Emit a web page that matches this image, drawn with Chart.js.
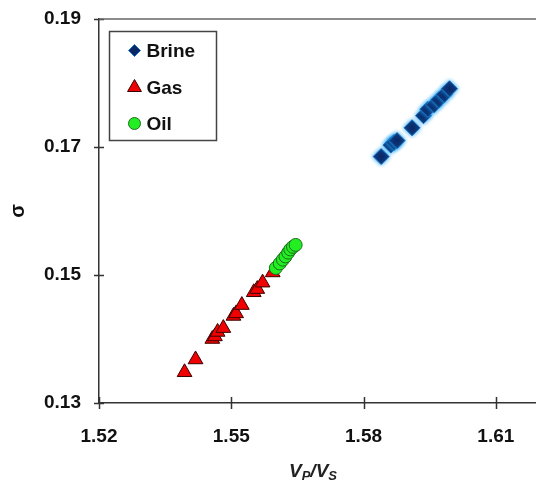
<!DOCTYPE html>
<html>
<head>
<meta charset="utf-8">
<title>Vp/Vs vs Poisson ratio</title>
<script src="https://cdn.jsdelivr.net/npm/chart.js@4.4.1/dist/chart.umd.min.js"></script>
<style>
  html, body { margin: 0; padding: 0; background: #fff; overflow: hidden; }
  #wrap { position: relative; width: 600px; height: 484px; }
</style>
</head>
<body>
<div id="wrap"><canvas id="ratioChart" width="600" height="484"></canvas></div>
<script>
// Vp/Vs against Poisson's ratio (sigma) for each pore fluid
const brineVp = [1.5840, 1.5862, 1.5869, 1.5876, 1.5910, 1.5936, 1.5946, 1.5960, 1.5971, 1.5983, 1.5995];
const brineSigma = [0.1685, 0.1703, 0.1707, 0.1710, 0.1730, 0.1749, 0.1759, 0.1766, 0.1774, 0.1782, 0.1791];

const gasVp = [1.5394, 1.5419, 1.5457, 1.5463, 1.5469, 1.5482, 1.5505, 1.5511, 1.5524, 1.5551, 1.5559, 1.5571, 1.5594];
const gasSigma = [0.1348, 0.1368, 0.1400, 0.1404, 0.1411, 0.1417, 0.1436, 0.1440, 0.1453, 0.1473, 0.1478, 0.1488, 0.1504];

const oilVp = [1.5601, 1.5610, 1.5617, 1.5623, 1.5629, 1.5634, 1.5640, 1.5646];
const oilSigma = [0.1511, 0.1518, 0.1524, 0.1529, 0.1535, 0.1540, 0.1544, 0.1547];

const xTicks = [1.52, 1.55, 1.58, 1.61];
const yTicks = [0.13, 0.15, 0.17, 0.19];
const fluidNames = ["Brine", "Gas", "Oil"];

const FONT = '"Liberation Sans", Arial, sans-serif';

function pairs(xs, ys) {
  return xs.map((x, i) => ({ x: x, y: ys[i] }));
}

// crossing tick marks, top frame line, x title with subscripts, legend box
const decorations = {
  id: "decorations",
  beforeDatasetDraw(chart, args) {
    const ctx = chart.ctx;
    if (args.index === 0) {
      ctx.shadowColor = "rgba(30,160,240,1)";
      ctx.shadowBlur = 4;
    }
  },
  afterDatasetDraw(chart) {
    chart.ctx.shadowBlur = 0;
    chart.ctx.shadowColor = "transparent";
  },
  afterDraw(chart) {
    const ctx = chart.ctx;
    const area = chart.chartArea;
    const xs = chart.scales.x;
    const ys = chart.scales.y;
    ctx.save();
    ctx.strokeStyle = "#333";
    ctx.lineWidth = 1.5;

    ctx.beginPath();
    xTicks.forEach(v => {
      const px = Math.round(xs.getPixelForValue(v)) + 0.5;
      ctx.moveTo(px, area.bottom - 6);
      ctx.lineTo(px, area.bottom + 6);
    });
    yTicks.forEach(v => {
      const py = Math.round(ys.getPixelForValue(v)) + 0.5;
      ctx.moveTo(area.left - 5, py);
      ctx.lineTo(area.left + 5, py);
    });
    ctx.stroke();

    ctx.strokeStyle = "#666";
    ctx.beginPath();
    ctx.moveTo(area.left, area.top);
    ctx.lineTo(area.right, area.top);
    ctx.stroke();

    // V_P / V_S
    ctx.fillStyle = "#222";
    ctx.textBaseline = "alphabetic";
    const parts = [
      { t: "V", f: "italic bold 19px " + FONT, dy: 0 },
      { t: "P", f: "italic bold 13px " + FONT, dy: 3 },
      { t: "/V", f: "italic bold 19px " + FONT, dy: 0 },
      { t: "S", f: "italic bold 13px " + FONT, dy: 3 }
    ];
    let total = 0;
    parts.forEach(p => { ctx.font = p.f; p.w = ctx.measureText(p.t).width; total += p.w; });
    let tx = 313 - total / 2;
    parts.forEach(p => {
      ctx.font = p.f;
      ctx.fillText(p.t, tx, 477 + p.dy);
      tx += p.w;
    });

    // legend
    const lx = area.left + 10.5, ly = area.top + 12.5;
    ctx.strokeStyle = "#444";
    ctx.lineWidth = 1.5;
    ctx.strokeRect(lx, ly, 107, 109);
    const rows = [19, 56, 92];
    chart.data.datasets.forEach((ds, i) => {
      const cy = ly + rows[i];
      ctx.fillStyle = ds.backgroundColor;
      ctx.strokeStyle = ds.borderColor;
      ctx.lineWidth = ds.borderWidth;
      Chart.helpers.drawPoint(ctx, {
        pointStyle: ds.pointStyle,
        radius: ds.legendRadius,
        rotation: 0,
        borderWidth: ds.borderWidth
      }, lx + 25, cy);
      ctx.fillStyle = "#111";
      ctx.font = "bold 19px " + FONT;
      ctx.textBaseline = "middle";
      ctx.textAlign = "left";
      ctx.fillText(ds.label, lx + 37, cy + 1);
    });
    ctx.restore();
  }
};

new Chart(document.getElementById("ratioChart"), {
  type: "scatter",
  data: {
    datasets: [
      {
        label: fluidNames[0],
        data: pairs(brineVp, brineSigma),
        pointStyle: "rectRot",
        pointRadius: 8,
        legendRadius: 6,
        backgroundColor: "#0a2766",
        borderColor: "#1a72c4",
        borderWidth: 1,
        order: 2
      },
      {
        label: fluidNames[1],
        data: pairs(gasVp, gasSigma),
        pointStyle: "triangle",
        pointRadius: 8.5,
        legendRadius: 8,
        backgroundColor: "#f00000",
        borderColor: "#3a0000",
        borderWidth: 1,
        order: 1
      },
      {
        label: fluidNames[2],
        data: pairs(oilVp, oilSigma),
        pointStyle: "circle",
        pointRadius: 6.5,
        legendRadius: 6,
        backgroundColor: "#22ee22",
        borderColor: "#1d6b1d",
        borderWidth: 1,
        order: 0
      }
    ]
  },
  options: {
    responsive: false,
    animation: false,
    layout: { padding: { top: 19, left: 0, right: 16, bottom: 0 } },
    plugins: {
      legend: { display: false },
      tooltip: { enabled: false }
    },
    scales: {
      x: {
        type: "linear",
        min: 1.52,
        max: 1.63,
        afterFit: s => { s.height = 81; s.paddingLeft = 0; s.paddingRight = 0; },
        afterBuildTicks: s => { s.ticks = xTicks.map(v => ({ value: v })); },
        ticks: {
          padding: 22,
          color: "#111",
          font: { family: FONT, size: 19, weight: "bold" },
          callback: v => v.toFixed(2)
        },
        grid: { drawOnChartArea: false, drawTicks: false },
        border: { color: "#333", width: 1.5 }
      },
      y: {
        min: 0.13,
        max: 0.19,
        afterFit: s => { s.width = 99; s.paddingTop = 0; s.paddingBottom = 0; },
        afterBuildTicks: s => { s.ticks = yTicks.map(v => ({ value: v })); },
        title: {
          display: true,
          text: "σ",
          color: "#111",
          padding: { top: 6, bottom: 0 },
          font: { family: FONT, size: 20, weight: "bold" }
        },
        ticks: {
          padding: 18,
          color: "#111",
          font: { family: FONT, size: 19, weight: "bold" },
          callback: v => v.toFixed(2)
        },
        grid: { drawOnChartArea: false, drawTicks: false },
        border: { color: "#333", width: 1.5 }
      }
    }
  },
  plugins: [decorations]
});
</script>
</body>
</html>
